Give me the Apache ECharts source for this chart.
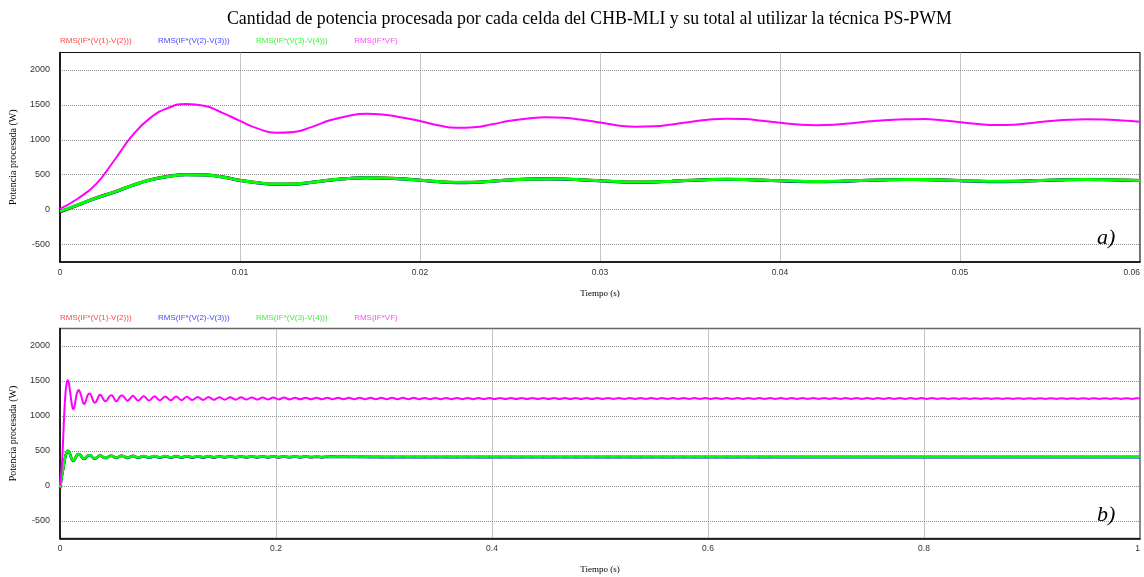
<!DOCTYPE html>
<html>
<head>
<meta charset="utf-8">
<script src="https://cdn.jsdelivr.net/npm/echarts@6/dist/echarts.min.js"></script>
<style>
  html, body { margin: 0; padding: 0; background: #fff; }
  #chart { width: 1144px; height: 577px; }
</style>
</head>
<body>
<div id="chart"></div>
<script>
// Series names (as in the simulator legend)
const seriesNames = ['RMS(IF*(V(1)-V(2)))', 'RMS(IF*(V(2)-V(3)))', 'RMS(IF*(V(3)-V(4)))', 'RMS(IF*VF)'];
const seriesColors = ['#ff0000', '#0000ff', '#00ff00', '#ff00ff'];
const legendColors = ['#ff4a4a', '#4a4aff', '#44ee44', '#ff4aff'];

// y-axis tick labels (W)
const yTicks = [-500, 0, 500, 1000, 1500, 2000];

// Detail window a): samples every 1 ms from 0 to 0.06 s
const detailStep = 0.001;
const cell1A = [-35, 65, 168, 252, 348, 428, 478, 503, 499, 470, 421, 384, 364, 366, 392, 424, 447, 457, 453, 441, 421, 401, 389, 391, 407, 425, 437, 441, 438, 427, 413, 400, 395, 397, 407, 419, 430, 435, 432, 423, 413, 405, 401, 404, 412, 421, 429, 432, 431, 425, 416, 407, 403, 405, 413, 422, 430, 432, 430, 424, 417];
const cell2A = [-28, 68, 163, 248, 343, 423, 474, 499, 496, 467, 418, 382, 362, 365, 391, 422, 445, 455, 451, 438, 420, 400, 386, 389, 406, 424, 435, 439, 436, 425, 412, 398, 392, 395, 406, 418, 428, 433, 430, 421, 412, 403, 399, 402, 411, 420, 427, 430, 429, 423, 415, 405, 400, 403, 412, 422, 428, 430, 428, 422, 416];
const cell3A = [-25, 70, 165, 250, 345, 425, 475, 500, 497, 468, 420, 385, 366, 368, 393, 423, 446, 456, 452, 440, 422, 403, 391, 393, 408, 425, 436, 440, 437, 427, 414, 402, 397, 399, 408, 419, 429, 434, 431, 423, 414, 407, 404, 406, 413, 421, 428, 431, 430, 425, 417, 409, 405, 407, 414, 423, 429, 431, 429, 424, 418];
const totalA = [10, 160, 365, 700, 1055, 1310, 1455, 1512, 1488, 1390, 1270, 1160, 1100, 1112, 1185, 1280, 1342, 1372, 1358, 1320, 1268, 1208, 1172, 1180, 1222, 1272, 1306, 1322, 1316, 1287, 1246, 1206, 1188, 1194, 1220, 1256, 1288, 1302, 1296, 1272, 1244, 1220, 1210, 1216, 1238, 1264, 1284, 1295, 1296, 1280, 1252, 1226, 1212, 1216, 1240, 1268, 1286, 1293, 1291, 1277, 1258];

// Full run b): ripple troughs/peaks every 5 ms starting at 0.0625 s
const rippleStart = 0.0625;
const rippleStep = 0.005;
const totalRipple = [
  1215, 1288, 1218, 1285, 1220, 1283, 1222, 1280, 1224, 1278,
  1226, 1275, 1228, 1273, 1230, 1271, 1231, 1269, 1232, 1268,
  1233, 1267, 1234, 1266, 1235, 1265, 1236, 1264, 1237, 1263,
  1237, 1262, 1238, 1261, 1238, 1261, 1239, 1260, 1239, 1260,
  1239, 1260, 1240, 1259, 1240, 1259, 1240, 1259, 1240, 1259,
  1240, 1259, 1241, 1259, 1241, 1258, 1241, 1258, 1241, 1258,
  1241, 1258, 1241, 1258, 1241, 1258, 1242, 1258, 1242, 1257,
  1242, 1257, 1242, 1257, 1242, 1257, 1242, 1257, 1242, 1257,
  1242, 1257, 1242, 1257, 1242, 1257, 1243, 1257, 1243, 1256,
  1243, 1256, 1243, 1256, 1243, 1256, 1243, 1256, 1243, 1256,
  1243, 1256, 1243, 1256, 1243, 1256, 1243, 1256, 1243, 1256,
  1243, 1256, 1243, 1256, 1243, 1256, 1243, 1256, 1243, 1256,
  1244, 1256, 1244, 1256, 1244, 1256, 1244, 1256, 1244, 1256,
  1244, 1256, 1244, 1256, 1244, 1256, 1244, 1256, 1244, 1256,
  1244, 1256, 1244, 1256, 1244, 1256, 1244, 1256, 1244, 1256,
  1244, 1255, 1244, 1255, 1244, 1255, 1244, 1255, 1244, 1255,
  1244, 1255, 1244, 1255, 1244, 1255, 1244, 1255, 1244, 1255,
  1244, 1255, 1244, 1255, 1244, 1255, 1244, 1255, 1244, 1255,
  1244, 1255, 1244, 1255, 1244, 1255, 1244, 1255
];
const cell3Ripple = [
  405, 430, 406, 429, 407, 428, 408, 427, 409, 426,
  410, 425, 410, 424, 411, 424, 411, 423, 412, 423,
  412, 422, 412, 422, 413, 421, 413, 421, 413, 421,
  414, 420, 414, 420, 414, 420, 414, 420, 414, 420,
  414, 420, 414, 420, 414, 420, 414, 420, 414, 420,
  414, 420, 414, 420, 414, 420, 414, 420, 414, 420,
  414, 420, 414, 420, 414, 420, 414, 420, 414, 420,
  414, 420, 414, 420, 414, 420, 414, 420, 414, 420,
  414, 420, 414, 420, 414, 420, 414, 420, 414, 420,
  414, 420, 414, 420, 414, 420, 414, 420, 414, 420,
  414, 420, 414, 420, 414, 420, 414, 420, 414, 420,
  414, 420, 414, 420, 414, 420, 414, 420, 414, 420,
  414, 419, 414, 419, 414, 419, 414, 419, 414, 419,
  414, 419, 414, 419, 414, 419, 414, 419, 414, 419,
  414, 419, 414, 419, 414, 419, 414, 419, 414, 419,
  414, 419, 414, 419, 414, 419, 414, 419, 414, 419,
  414, 419, 414, 419, 414, 419, 414, 419, 414, 419,
  414, 419, 414, 419, 414, 419, 414, 419, 414, 419,
  414, 419, 414, 419, 414, 419, 414, 419
];
const cell1Ripple = [406, 431, 407, 430, 408, 429, 409, 428, 410, 427, 411, 426, 411, 425, 412, 425, 412, 424, 413, 424, 413, 423, 413, 423, 414, 422, 414, 422, 414, 422, 415, 421, 415, 421, 415, 421, 415, 421];
const cell2Ripple = [400, 427, 401, 426, 402, 425, 403, 424, 404, 423, 405, 422, 405, 421, 406, 421, 406, 420, 407, 420, 407, 419, 407, 419, 408, 418, 408, 418, 408, 418, 409, 417, 409, 417, 409, 416, 409, 416];

// Steady-state samples after the ripple records end
const steadyTimesCells = [0.3, 0.4, 0.5, 0.6, 0.7, 0.8, 0.9, 1.0];
const cell1Steady = [418, 418, 418, 418, 418, 418, 418, 418];
const cell2Steady = [412, 412, 412, 412, 412, 412, 412, 412];
const steadyTimesLong = [1.0];
const cell3Steady = [417];
const totalSteady = [1250];

// Pair sample times with values
function detailPairs(vals) {
  return vals.map((v, i) => [+(i * detailStep).toFixed(4), v]);
}
function fullPairs(detail, ripple, steadyT, steady) {
  const out = detailPairs(detail);
  ripple.forEach((v, i) => out.push([+(rippleStart + i * rippleStep).toFixed(4), v]));
  steady.forEach((v, i) => out.push([steadyT[i], v]));
  return out;
}

const detailSets = [cell1A, cell2A, cell3A, totalA];
const fullSets = [
  fullPairs(cell1A, cell1Ripple, steadyTimesCells, cell1Steady),
  fullPairs(cell2A, cell2Ripple, steadyTimesCells, cell2Steady),
  fullPairs(cell3A, cell3Ripple, steadyTimesLong, cell3Steady),
  fullPairs(totalA, totalRipple, steadyTimesLong, totalSteady)
];

const sans = 'Liberation Sans';
const serif = 'Liberation Serif';
const gridLine = { show: true, lineStyle: { color: '#8c8c8c', type: [1, 1], width: 1 } };

function makeX(idx, max, interval) {
  return {
    type: 'value', gridIndex: idx, min: 0, max: max, interval: interval,
    name: 'Tiempo (s)', nameLocation: 'middle', nameGap: 27,
    nameTextStyle: { fontFamily: serif, fontSize: 9, color: '#000' },
    axisLine: { show: true, onZero: false, lineStyle: { color: '#000', width: 1.5 } },
    axisTick: { show: false },
    axisLabel: { fontFamily: sans, fontSize: 8.5, color: '#333', margin: 6, alignMaxLabel: 'right' },
    splitLine: gridLine
  };
}
function makeY(idx) {
  return {
    type: 'value', gridIndex: idx, min: -750, max: 2250,
    name: 'Potencia procesada (W)', nameLocation: 'middle', nameGap: 42,
    nameTextStyle: { fontFamily: serif, fontSize: 10, color: '#000' },
    axisLine: { show: true, lineStyle: { color: '#000', width: 1.5 } },
    axisTick: { show: false, customValues: yTicks },
    axisLabel: { fontFamily: sans, fontSize: 9, color: '#333', margin: 10, customValues: yTicks,
      formatter: v => String(v) },
    splitLine: gridLine
  };
}
function makeLegend(top) {
  return {
    top: top, left: 55, itemWidth: 0, itemHeight: 0, itemGap: 21.5,
    selectedMode: false, padding: 0,
    data: seriesNames.map((n, i) => ({ name: n, icon: 'rect', textStyle: { color: legendColors[i] } })),
    textStyle: { fontFamily: sans, fontSize: 8 }
  };
}

const series = [];
detailSets.forEach((vals, i) => {
  series.push({
    name: seriesNames[i], type: 'line', xAxisIndex: 0, yAxisIndex: 0,
    data: detailPairs(vals), showSymbol: false, symbol: 'none', smooth: 0.5,
    lineStyle: { color: seriesColors[i], width: i === 3 ? 2 : 3 },
    itemStyle: { color: seriesColors[i] }, z: 2 + i
  });
});
fullSets.forEach((pairs, i) => {
  series.push({
    name: seriesNames[i], type: 'line', xAxisIndex: 1, yAxisIndex: 1,
    data: pairs, showSymbol: false, symbol: 'none', smooth: 0.3,
    lineStyle: { color: seriesColors[i], width: i === 3 ? 2 : 2.5 },
    itemStyle: { color: seriesColors[i] }, z: 2 + i
  });
});

const chart = echarts.init(document.getElementById('chart'), null, { renderer: 'canvas' });
chart.setOption({
  animation: false,
  backgroundColor: '#fff',
  title: {
    text: 'Cantidad de potencia procesada por cada celda del CHB-MLI y su total al utilizar la técnica PS-PWM',
    left: 222, top: 5,
    textStyle: { fontFamily: serif, fontSize: 17.8, fontWeight: 'normal', color: '#000' }
  },
  legend: [makeLegend(37), makeLegend(314)],
  grid: [
    { left: 60, right: 4, top: 52.5, height: 209.5, show: true, borderColor: '#111', borderWidth: 1.2, backgroundColor: '#fff' },
    { left: 60, right: 4, top: 328.5, height: 210, show: true, borderColor: '#666', borderWidth: 1.5, backgroundColor: '#fff' }
  ],
  xAxis: [makeX(0, 0.06, 0.01), makeX(1, 1, 0.2)],
  yAxis: [makeY(0), makeY(1)],
  graphic: [
    { type: 'text', left: 1097, top: 227, style: { text: 'a)', font: 'italic 22px "Liberation Serif"', fill: '#000' }, z: 100 },
    { type: 'text', left: 1097, top: 504, style: { text: 'b)', font: 'italic 22px "Liberation Serif"', fill: '#000' }, z: 100 }
  ],
  series: series
});
</script>
</body>
</html>
